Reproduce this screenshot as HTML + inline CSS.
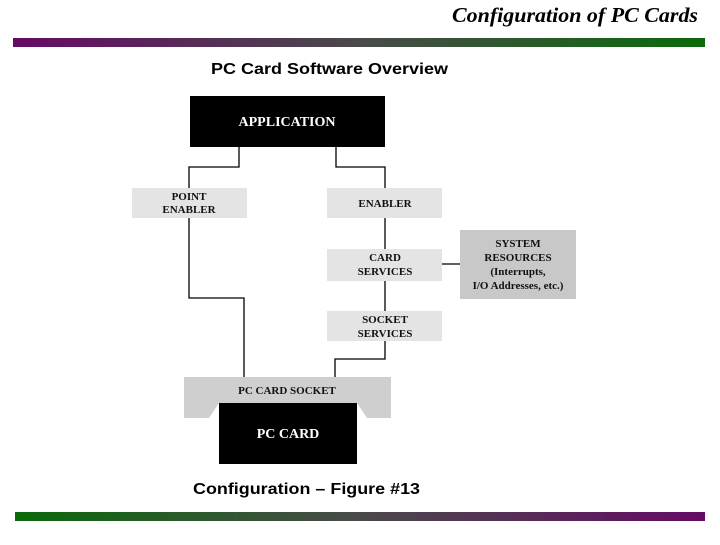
<!DOCTYPE html>
<html><head><style>
body{margin:0;background:#fff;}
.t{font-family:"Liberation Serif",serif;font-weight:bold;fill:#111;font-size:11px;text-anchor:middle}
</style></head><body>
<svg width="720" height="540" viewBox="0 0 720 540" xmlns="http://www.w3.org/2000/svg">
<defs>
<linearGradient id="g1" x1="0" x2="1"><stop offset="0" stop-color="#660a66"/><stop offset="0.5" stop-color="#4a4a4a"/><stop offset="1" stop-color="#0a6a0a"/></linearGradient>
<linearGradient id="g2" x1="0" x2="1"><stop offset="0" stop-color="#0a6a0a"/><stop offset="0.5" stop-color="#4a4a4a"/><stop offset="1" stop-color="#660a66"/></linearGradient>
</defs>
<text x="452" y="22" textLength="246" lengthAdjust="spacingAndGlyphs" font-family="Liberation Serif,serif" font-style="italic" font-weight="bold" font-size="21" fill="#000">Configuration of PC Cards</text>
<rect x="13" y="38" width="692" height="9" fill="url(#g1)"/>
<rect x="15" y="512" width="690" height="9" fill="url(#g2)"/>
<text x="211" y="74" textLength="237" lengthAdjust="spacingAndGlyphs" font-family="Liberation Sans,sans-serif" font-weight="bold" font-size="16" fill="#000">PC Card Software Overview</text>
<text x="193" y="494" textLength="227" lengthAdjust="spacingAndGlyphs" font-family="Liberation Sans,sans-serif" font-weight="bold" font-size="16" fill="#000">Configuration – Figure #13</text>
<g fill="none" stroke="#000" stroke-width="1.3">
<polyline points="239,147 239,167 189,167 189,189"/>
<polyline points="336,147 336,167 385,167 385,189"/>
<polyline points="189,218 189,298 244,298 244,377"/>
<line x1="385" y1="218" x2="385" y2="249"/>
<line x1="385" y1="281" x2="385" y2="311"/>
<line x1="442" y1="264" x2="460" y2="264"/>
<polyline points="385,341 385,359 335,359 335,377"/>
</g>
<rect x="190" y="96" width="195" height="51" fill="#000"/>
<text x="287" y="126" class="t" style="fill:#fff;font-size:14px">APPLICATION</text>
<rect x="132" y="188" width="115" height="30" fill="#e4e4e4"/>
<text x="189" y="200" class="t">POINT</text><text x="189" y="213" class="t">ENABLER</text>
<rect x="327" y="188" width="115" height="30" fill="#e4e4e4"/>
<text x="385" y="207" class="t">ENABLER</text>
<rect x="327" y="249" width="115" height="32" fill="#e4e4e4"/>
<text x="385" y="261" class="t">CARD</text><text x="385" y="275" class="t">SERVICES</text>
<rect x="327" y="311" width="115" height="30" fill="#e4e4e4"/>
<text x="385" y="323" class="t">SOCKET</text><text x="385" y="337" class="t">SERVICES</text>
<rect x="460" y="230" width="116" height="69" fill="#c8c8c8"/>
<text x="518" y="247" class="t">SYSTEM</text><text x="518" y="261" class="t">RESOURCES</text>
<text x="518" y="275" class="t">(Interrupts,</text><text x="518" y="289" class="t">I/O Addresses, etc.)</text>
<polygon points="184,377 391,377 391,418 367,418 357,403 219,403 209,418 184,418" fill="#cfcfcf"/>
<text x="287" y="394" class="t">PC CARD SOCKET</text>
<rect x="219" y="403" width="138" height="61" fill="#000"/>
<text x="288" y="438" class="t" style="fill:#fff;font-size:14px">PC CARD</text>
</svg>
</body></html>
